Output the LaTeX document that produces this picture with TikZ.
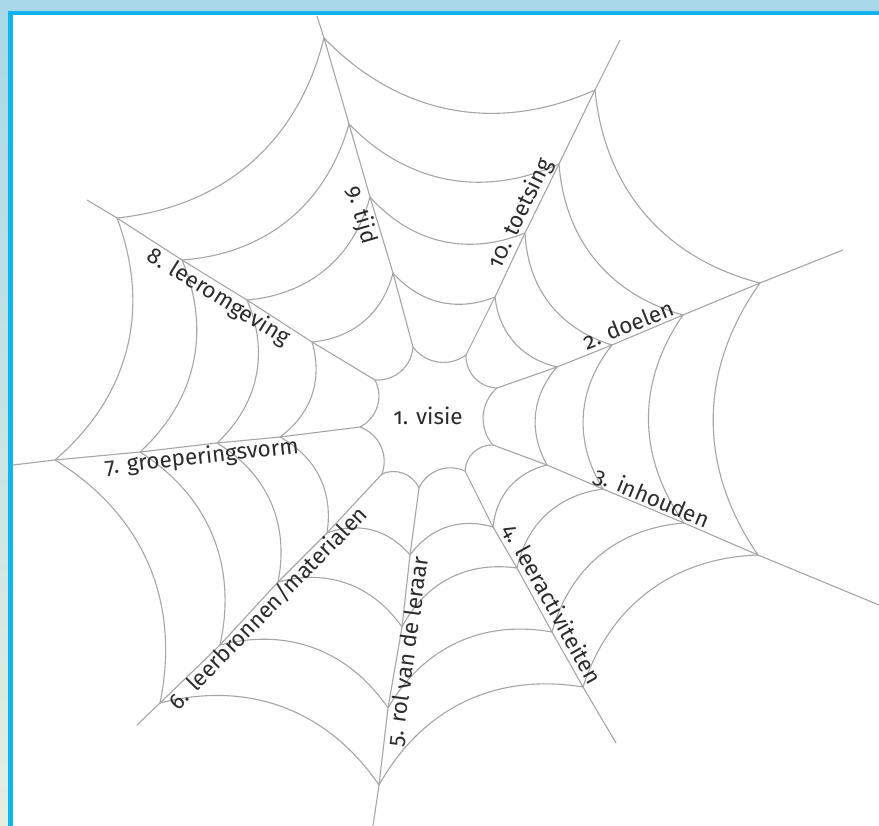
\documentclass[tikz,border=0pt]{standalone}
\usepackage{fontspec}
\setmainfont{Fira Sans}[Numbers=OldStyle]
\definecolor{webgray}{HTML}{A5A5A5}
\definecolor{labelink}{HTML}{2B2B2B}
\definecolor{bandblue}{HTML}{A8D8EA}
\definecolor{bandgreen}{HTML}{E4EFDF}
\definecolor{rimblue}{HTML}{12B4EE}
\tikzset{
  spoke/.style={draw=webgray,line width=1.1pt},
  thread/.style={draw=webgray,line width=1.1pt},
  tag/.style={
    font=\fontsize{22.5}{24}\selectfont,
    text=labelink,
    inner sep=1.5pt
  }
}

\begin{document}
\begin{tikzpicture}[x=1pt,y=-1pt]
  \useasboundingbox (0,0) rectangle (879,826);
  \fill[white] (0,0) rectangle (879,826);

  % junctions, from the hub outwards
  \coordinate (s9-1) at (413,347);  \coordinate (s9-2) at (393,273);
  \coordinate (s9-3) at (370,197);  \coordinate (s9-4) at (349,124);
  \coordinate (s9-5) at (324,38);   \coordinate (s9-e) at (317,16);
  \coordinate (s10-1) at (466,355); \coordinate (s10-2) at (495,297);
  \coordinate (s10-3) at (525,233); \coordinate (s10-4) at (559,164);
  \coordinate (s10-5) at (595,90);  \coordinate (s10-e) at (620,40);
  \coordinate (s2-1) at (497,388);  \coordinate (s2-2) at (557,367);
  \coordinate (s2-3) at (612,345);  \coordinate (s2-4) at (683,315);
  \coordinate (s2-5) at (760,283);  \coordinate (s2-e) at (843,250);
  \coordinate (s3-1) at (493,445);  \coordinate (s3-2) at (547,465);
  \coordinate (s3-3) at (603,489);  \coordinate (s3-4) at (684,523);
  \coordinate (s3-5) at (758,555);  \coordinate (s3-e) at (879,605);
  \coordinate (s4-1) at (465,471);  \coordinate (s4-2) at (493,527);
  \coordinate (s4-3) at (517,568);  \coordinate (s4-4) at (552,632);
  \coordinate (s4-5) at (583,687);  \coordinate (s4-e) at (616,743);
  \coordinate (s5-1) at (419,488);  \coordinate (s5-2) at (410,555);
  \coordinate (s5-3) at (402,627);  \coordinate (s5-4) at (388,708);
  \coordinate (s5-5) at (379,785);  \coordinate (s5-e) at (373,826);
  \coordinate (s6-1) at (382,474);  \coordinate (s6-2) at (327,533);
  \coordinate (s6-3) at (278,582);  \coordinate (s6-4) at (220,645);
  \coordinate (s6-5) at (160,703);  \coordinate (s6-e) at (137,725);
  \coordinate (s7-1) at (360,427);  \coordinate (s7-2) at (280,437);
  \coordinate (s7-3) at (217,443);  \coordinate (s7-4) at (140,452);
  \coordinate (s7-5) at (55,460);   \coordinate (s7-e) at (13,465);
  \coordinate (s8-1) at (375,380);  \coordinate (s8-2) at (312,342);
  \coordinate (s8-3) at (247,300);  \coordinate (s8-4) at (182,260);
  \coordinate (s8-5) at (117,218);  \coordinate (s8-e) at (87,200);

  % spokes
  \foreach \s in {2,...,10}
    \draw[spoke] (s\s-1) -- (s\s-2) -- (s\s-3) -- (s\s-4) -- (s\s-5) -- (s\s-e);

  % rings, clockwise, sagging to the hub
  \foreach \p/\q in {9/10,10/2,2/3,3/4,4/5,5/6,6/7,7/8,8/9} {
    \draw[thread] (s\p-1) to[bend right=45] (s\q-1);
    \foreach \r in {2,...,5}
      \draw[thread] (s\p-\r) to[bend right=35] (s\q-\r);
  }

  % labels
  \node[tag] (visie) at (428,416) {1. visie};
  \path (s2-1) -- (s2-e) node[tag,sloped,above,pos=0.39] (doelen) {2. doelen};
  \path (s3-1) -- (s3-e) node[tag,sloped,above,pos=0.40] (inhoud) {3. inhouden};
  \path (s4-1) -- (s4-e) node[tag,sloped,above,pos=0.51] (activ) {4. leeractiviteiten};
  \path (s5-e) -- (s5-1) node[tag,sloped,below,pos=0.52] (leraar) {5. rol van de leraar};
  \path (s6-e) -- (s6-1) node[tag,sloped,below,pos=0.50] (bronnen) {6. leerbronnen/materialen};
  \path (s7-e) -- (s7-1) node[tag,sloped,below,pos=0.54] (groep) {7. groeperingsvorm};
  \path (s8-e) -- (s8-1) node[tag,sloped,below,pos=0.48] (omgeving) {8. leeromgeving};
  \path (s9-e) -- (s9-1) node[tag,sloped,below,pos=0.59] (tijd) {9. tijd};
  \path (s10-1) -- (s10-e) node[tag,sloped,above,pos=0.43] (toets) {10. toetsing};

  % frame
  \shade[top color=bandblue,bottom color=bandgreen] (0,0) rectangle (9,826);
  \fill[bandblue] (0,0) rectangle (879,11);
  \draw[rimblue,line width=4.5pt] (10.7,826) |- (879,13);
\end{tikzpicture}
\end{document}
